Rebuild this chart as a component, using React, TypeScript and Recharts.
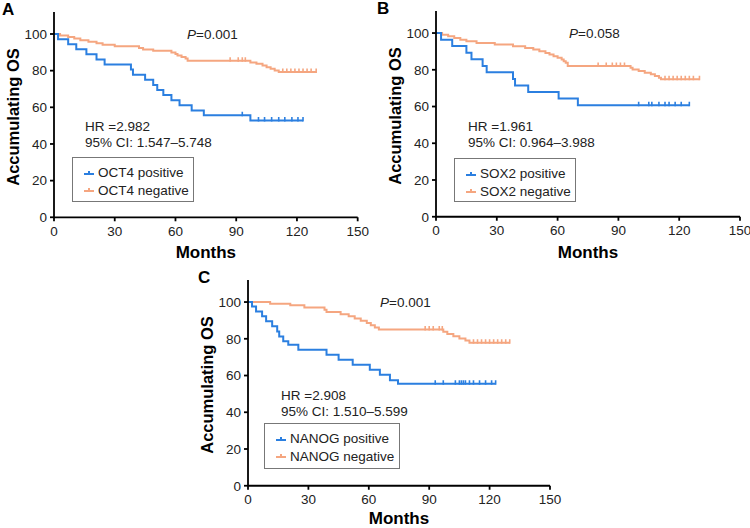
import React from 'react';
import { LineChart, Line, XAxis, YAxis } from 'recharts';

const monthTicks = [0, 30, 60, 90, 120, 150];
const osTicks = [0, 20, 40, 60, 80, 100];

// step points [month, survival %] and censored months
const oct4PosSteps = [[0, 100], [2, 97.2], [7, 94.4], [11, 91.7], [16, 88.9], [21, 86.1], [25, 83.3], [38, 80.6], [39, 77.8], [45, 75.0], [49, 72.2], [51, 69.4], [54, 66.7], [58, 63.9], [62, 61.1], [68, 58.3], [74, 55.6], [97, 52.8]];
const oct4PosCens = [93, 101, 104, 107.5, 111, 114, 117.5, 120.5, 123];
const oct4NegSteps = [[0, 100], [3, 99.2], [7, 98.3], [10, 97.5], [13, 96.6], [17, 95.8], [21, 95.0], [24, 94.1], [30, 93.3], [42, 92.4], [44, 91.6], [49, 90.8], [58, 89.9], [60, 89.1], [61, 88.2], [63, 87.4], [65, 86.6], [66, 85.4], [97, 84.5], [100, 83.7], [103, 82.8], [105, 81.9], [107, 81.0], [109, 80.1], [111, 79.2]];
const oct4NegCens = [87, 91, 93, 94.5, 113, 115, 117, 119, 121, 123, 125, 127, 129.5];

const sox2PosSteps = [[0, 100], [2.5, 96.4], [8, 92.9], [15, 89.3], [17.5, 85.7], [23, 82.1], [25, 78.6], [38, 75.0], [39, 71.4], [45.5, 67.9], [60.5, 64.3], [70, 60.7]];
const sox2PosCens = [100, 105, 106.5, 110, 113, 115, 118, 121, 125];
const sox2NegSteps = [[0, 100], [3, 99.1], [6, 98.2], [9, 97.3], [12, 96.4], [15, 95.5], [20, 94.6], [29, 93.7], [38, 92.8], [44, 91.9], [48, 91.0], [51, 90.1], [54, 89.2], [56, 88.3], [58, 87.4], [60, 86.5], [62, 85.6], [63, 84.7], [64, 83.8], [65, 82.0], [96, 81.1], [97, 80.2], [100, 79.3], [103, 78.4], [106, 77.5], [108, 76.6], [110, 75.7], [111, 74.8]];
const sox2NegCens = [80, 84, 87, 89, 91, 93, 113, 115, 117, 119, 121, 123, 125, 127, 130];

const nanogPosSteps = [[0, 100], [2, 97.6], [4, 94.9], [7, 92.2], [9, 89.5], [12, 86.8], [14.5, 84.0], [15.5, 81.3], [17.5, 78.6], [20, 76.8], [25, 74.0], [39, 71.3], [45, 68.6], [52, 65.9], [60.5, 63.2], [65.5, 60.4], [70.5, 57.4], [74.5, 55.5]];
const nanogPosCens = [93, 97, 103, 105, 106, 107, 108, 110, 112, 115, 118, 121, 123];
const nanogNegSteps = [[0, 100], [11, 99.1], [21, 98.2], [28, 97.0], [38, 95.8], [39, 94.6], [46, 93.4], [50, 92.2], [53, 91.0], [56, 89.8], [59, 88.6], [61, 87.4], [63, 86.2], [65, 85.0], [97, 83.8], [99, 82.6], [102, 81.4], [105, 80.2], [108, 79.0], [110, 77.8]];
const nanogNegCens = [88, 90, 92, 95, 96.5, 112, 114, 116, 118, 120, 122, 124, 126, 128, 130];

const BLUE = '#2b7fe0';
const ORANGE = '#f5a680';
const FONT = '"Liberation Sans", Arial, sans-serif';

function buildCurve(steps: number[][], cens: number[]) {
  const pts = steps.map(([t, s]) => ({ t, s, c: 0 }));
  cens.forEach((t) => {
    let s = 100;
    steps.forEach(([st, sv]) => {
      if (st <= t) s = sv;
    });
    pts.push({ t, s, c: 1 });
  });
  return pts.sort((a, b) => a.t - b.t || a.c - b.c);
}

const CensorDot = (props: any) => {
  const { cx, cy, payload, stroke, index } = props;
  if (!payload || !payload.c) return <g key={`d-${index}`} />;
  return <line key={`d-${index}`} x1={cx} x2={cx} y1={cy - 3.5} y2={cy + 1} stroke={stroke} strokeWidth={1.6} />;
};

interface PanelProps {
  letter: string;
  letterX: number;
  x0: number;
  x150: number;
  y100: number;
  y0: number;
  pos: any;
  neg: any;
  gene: string;
  p: string;
  hr: string;
  ci: string;
  hrX: number;
  pX: number;
  legend: { x: number; y: number; w: number; h: number };
}

function Panel({ letter, letterX, x0, x150, y100, y0, pos, neg, gene, p, hr, ci, hrX, pX, legend }: PanelProps) {
  const yAxisW = 54;
  const unit = (y0 - y100) / 100;
  const yTop = y0 - 112 * unit;
  const left = x0 - yAxisW;
  const top = yTop - 8;
  const width = x150 - x0 + yAxisW + 16;
  const height = y0 - top + 40;
  const tickStyle = { fontSize: 13.5, fill: '#222', fontFamily: FONT };
  const abs = (x: number, y: number, extra: any = {}) => ({
    position: 'absolute' as const,
    left: x,
    top: y,
    fontFamily: FONT,
    color: '#222',
    whiteSpace: 'nowrap' as const,
    lineHeight: 1,
    ...extra,
  });
  const mid = (y0 + yTop) / 2 + 2;
  return (
    <>
      <div style={{ position: 'absolute', left, top }}>
        <LineChart width={width} height={height} margin={{ top: 8, right: 16, left: 0, bottom: 10 }}>
          <XAxis
            type="number"
            dataKey="t"
            domain={[0, 150]}
            ticks={monthTicks}
            allowDataOverflow
            tick={tickStyle}
            tickSize={4}
            tickMargin={5}
            height={30}
            stroke="#000"
            strokeWidth={1.8}
            interval={0}
          />
          <YAxis
            type="number"
            dataKey="s"
            domain={[0, 112]}
            ticks={osTicks}
            tick={tickStyle}
            tickSize={4}
            tickMargin={3}
            width={yAxisW}
            stroke="#000"
            strokeWidth={1.8}
            interval={0}
          />
          <Line data={neg} dataKey="s" type="stepAfter" stroke={ORANGE} strokeWidth={2} dot={<CensorDot />} activeDot={false} isAnimationActive={false} />
          <Line data={pos} dataKey="s" type="stepAfter" stroke={BLUE} strokeWidth={2} dot={<CensorDot />} activeDot={false} isAnimationActive={false} />
        </LineChart>
      </div>
      <div style={abs(letterX, yTop - 11, { fontSize: 17, fontWeight: 'bold', color: '#000' })}>{letter}</div>
      <div
        style={abs(x0 - 41, mid, {
          fontSize: 16.5,
          fontWeight: 'bold',
          color: '#000',
          transform: 'translate(-50%, -50%) rotate(-90deg)',
        })}
      >
        Accumulating OS
      </div>
      <div
        style={abs((x0 + x150) / 2, Math.min(y0 + 27, 510), {
          fontSize: 17,
          fontWeight: 'bold',
          color: '#000',
          transform: 'translateX(-50%)',
        })}
      >
        Months
      </div>
      <div style={abs(pX, y100 - 6, { fontSize: 13.5 })}>
        <i>P</i>=
        {p}
      </div>
      <div style={abs(hrX, y0 - 97, { fontSize: 13.5 })}>{hr}</div>
      <div style={abs(hrX, y0 - 81, { fontSize: 13.5 })}>{ci}</div>
      <div
        style={abs(legend.x, legend.y, {
          width: legend.w,
          height: legend.h,
          border: '1px solid #777',
          background: '#fff',
          boxSizing: 'border-box',
          fontSize: 13.5,
        })}
      >
        {[
          { c: BLUE, t: `${gene} positive` },
          { c: ORANGE, t: `${gene} negative` },
        ].map((e, i) => (
          <div key={i} style={{ position: 'absolute', left: 10, top: 8 + i * 17.6, display: 'flex', alignItems: 'center' }}>
            <svg width={12} height={10} style={{ marginRight: 3 }}>
              <line x1={1} x2={11} y1={6} y2={6} stroke={e.c} strokeWidth={2} />
              <line x1={6} x2={6} y1={3} y2={6} stroke={e.c} strokeWidth={2} />
            </svg>
            <span>{e.t}</span>
          </div>
        ))}
      </div>
    </>
  );
}

export default function App() {
  return (
    <div style={{ position: 'absolute', left: 0, top: 0, width: 750, height: 528, background: '#fff', overflow: 'hidden' }}>
      <Panel
        letter="A"
        letterX={2}
        x0={54}
        x150={357.7}
        y100={34}
        y0={217.3}
        pos={buildCurve(oct4PosSteps, oct4PosCens)}
        neg={buildCurve(oct4NegSteps, oct4NegCens)}
        gene="OCT4"
        p="0.001"
        hr="HR =2.982"
        ci="95% CI: 1.547–5.748"
        hrX={85}
        pX={187}
        legend={{ x: 72, y: 157, w: 122, h: 45 }}
      />
      <Panel
        letter="B"
        letterX={377}
        x0={436}
        x150={740}
        y100={33.3}
        y0={217}
        pos={buildCurve(sox2PosSteps, sox2PosCens)}
        neg={buildCurve(sox2NegSteps, sox2NegCens)}
        gene="SOX2"
        p="0.058"
        hr="HR =1.961"
        ci="95% CI: 0.964–3.988"
        hrX={468}
        pX={569}
        legend={{ x: 454, y: 158, w: 122, h: 44 }}
      />
      <Panel
        letter="C"
        letterX={198}
        x0={248}
        x150={550}
        y100={302.3}
        y0={486}
        pos={buildCurve(nanogPosSteps, nanogPosCens)}
        neg={buildCurve(nanogNegSteps, nanogNegCens)}
        gene="NANOG"
        p="0.001"
        hr="HR =2.908"
        ci="95% CI: 1.510–5.599"
        hrX={281}
        pX={380}
        legend={{ x: 264, y: 423, w: 136, h: 46 }}
      />
    </div>
  );
}
